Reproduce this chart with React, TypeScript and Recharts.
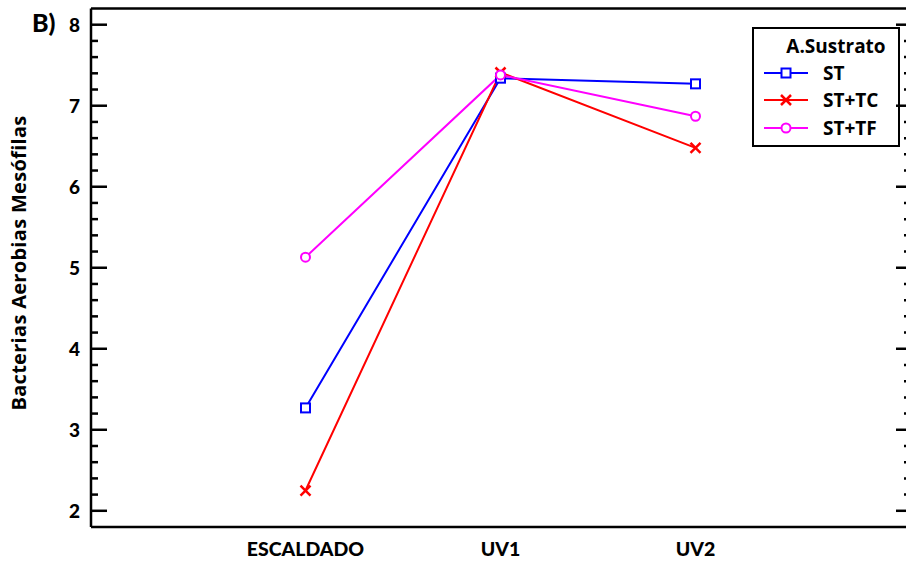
import React from 'react';
import { LineChart, Line, XAxis, YAxis, Customized } from 'recharts';

const categories = ['ESCALDADO', 'UV1', 'UV2'];
const stValues = [3.27, 7.34, 7.27];
const stTcValues = [2.25, 7.41, 6.48];
const stTfValues = [5.13, 7.38, 6.87];
const majorTicks = [2, 3, 4, 5, 6, 7, 8];
const seriesNames = ['ST', 'ST+TC', 'ST+TF'];
const legendTitle = 'A.Sustrato';
const yAxisTitle = 'Bacterias Aerobias Mesófilas';
const panelLabel = 'B)';

const BLUE = '#0000FF';
const RED = '#FF0000';
const MAGENTA = '#FF00FF';
const FONT = 'Lato, "Open Sans", sans-serif';
const FONT2 = '"Open Sans", Lato, sans-serif';

const data = categories.map((c, i) => ({
  x: i,
  cat: c,
  st: stValues[i],
  tc: stTcValues[i],
  tf: stTfValues[i],
}));

const allTicks: number[] = [];
majorTicks.forEach((m, i) => {
  allTicks.push(m);
  if (i < majorTicks.length - 1) {
    for (let k = 1; k <= 4; k++) allTicks.push(Math.round((m + k * 0.2) * 10) / 10);
  }
});

const isMajor = (v: number) => Math.abs(v - Math.round(v)) < 1e-6;

const SquareDot = (props: any) => {
  const { cx, cy } = props;
  if (cx == null || cy == null) return null;
  return <rect x={cx - 4.5} y={cy - 4.5} width={9} height={9} fill="#fff" stroke={BLUE} strokeWidth={2} />;
};
const CrossDot = (props: any) => {
  const { cx, cy } = props;
  if (cx == null || cy == null) return null;
  return (
    <g stroke={RED} strokeWidth={2.5}>
      <line x1={cx - 5} y1={cy - 5} x2={cx + 5} y2={cy + 5} />
      <line x1={cx - 5} y1={cy + 5} x2={cx + 5} y2={cy - 5} />
    </g>
  );
};
const CircleDot = (props: any) => {
  const { cx, cy } = props;
  if (cx == null || cy == null) return null;
  return <circle cx={cx} cy={cy} r={4.5} fill="#fff" stroke={MAGENTA} strokeWidth={2} />;
};

const LeftTick = (props: any) => {
  const { x, y, payload } = props;
  const v = payload.value;
  const major = isMajor(v);
  return (
    <g>
      <line x1={x} y1={y} x2={x + (major ? 16 : 7)} y2={y} stroke="#000" strokeWidth={2.5} />
      {major && (
        <text x={x - 11} y={y + 7} textAnchor="end" fontFamily={FONT} fontWeight={900} fontSize={19} fill="#000">
          {v}
        </text>
      )}
    </g>
  );
};

const RightTick = (props: any) => {
  const { x, y, payload } = props;
  const major = isMajor(payload.value);
  return <line x1={x} y1={y} x2={x - (major ? 14 : 6)} y2={y} stroke="#000" strokeWidth={2.5} />;
};

const BottomTick = (props: any) => {
  const { x, y, payload } = props;
  return (
    <text x={x} y={y + 29} textAnchor="middle" fontFamily={FONT} fontWeight={900} fontSize={19.5} fill="#000">
      {categories[payload.value]}
    </text>
  );
};

const Overlay = () => {
  const rows = [
    { name: seriesNames[0], color: BLUE, Dot: SquareDot },
    { name: seriesNames[1], color: RED, Dot: CrossDot },
    { name: seriesNames[2], color: MAGENTA, Dot: CircleDot },
  ];
  const rowY = [73, 100, 128];
  return (
    <g>
      <text x={32} y={32} fontFamily={FONT} fontWeight={900} fontSize={25} fill="#000">{panelLabel}</text>
      <text
        x={0}
        y={0}
        transform="translate(26,263) rotate(-90)"
        textAnchor="middle"
        fontFamily={FONT2}
        fontWeight={700}
        fontSize={20}
        letterSpacing={0.3}
        fill="#000"
      >
        {yAxisTitle}
      </text>
      <rect x={753} y={28} width={146} height={118} fill="#fff" stroke="#000" strokeWidth={2} />
      <text x={836} y={53} textAnchor="middle" fontFamily={FONT2} fontWeight={700} fontSize={19} fill="#000">{legendTitle}</text>
      {rows.map((r, i) => (
        <g key={r.name}>
          <line x1={764} y1={rowY[i]} x2={808} y2={rowY[i]} stroke={r.color} strokeWidth={2} />
          <r.Dot cx={786} cy={rowY[i]} />
          <text x={823} y={rowY[i] + 7} fontFamily={FONT2} fontWeight={700} fontSize={19} fill="#000">{r.name}</text>
        </g>
      ))}
    </g>
  );
};

export default function App() {
  return (
    <div style={{ position: 'absolute', left: 0, top: 0, width: 906, height: 565, overflow: 'hidden', background: '#fff' }}>
      <LineChart width={906} height={565} data={data} margin={{ top: 7.5, right: -5, bottom: 0, left: 0 }}>
        <XAxis
          xAxisId="b"
          type="number"
          dataKey="x"
          domain={[-1.1, 3.1]}
          ticks={[0, 1, 2]}
          allowDataOverflow
          height={38}
          tickSize={0}
          tickMargin={0}
          tickLine={false}
          axisLine={{ stroke: '#000', strokeWidth: 2.5 }}
          tick={<BottomTick />}
          interval={0}
        />
        <XAxis
          xAxisId="t"
          orientation="top"
          type="number"
          dataKey="x"
          domain={[-1.1, 3.1]}
          allowDataOverflow
          height={1}
          tick={false}
          tickLine={false}
          axisLine={{ stroke: '#000', strokeWidth: 2.5 }}
        />
        <YAxis
          yAxisId="l"
          type="number"
          domain={[1.8, 8.2]}
          ticks={allTicks}
          allowDataOverflow
          width={91}
          tickSize={0}
          tickMargin={0}
          tickLine={false}
          axisLine={{ stroke: '#000', strokeWidth: 2.5 }}
          tick={<LeftTick />}
          interval={0}
        />
        <YAxis
          yAxisId="r"
          orientation="right"
          type="number"
          domain={[1.8, 8.2]}
          ticks={allTicks}
          allowDataOverflow
          width={1}
          tickSize={0}
          tickMargin={0}
          tickLine={false}
          axisLine={{ stroke: '#000', strokeWidth: 2.5 }}
          tick={<RightTick />}
          interval={0}
        />
        <Line xAxisId="t" yAxisId="r" type="linear" dataKey="st" stroke="none" strokeWidth={0} dot={false} activeDot={false} legendType="none" isAnimationActive={false} />
        <Line xAxisId="b" yAxisId="l" type="linear" dataKey="st" stroke={BLUE} strokeWidth={2} dot={<SquareDot />} activeDot={false} isAnimationActive={false} />
        <Line xAxisId="b" yAxisId="l" type="linear" dataKey="tc" stroke={RED} strokeWidth={2} dot={<CrossDot />} activeDot={false} isAnimationActive={false} />
        <Line xAxisId="b" yAxisId="l" type="linear" dataKey="tf" stroke={MAGENTA} strokeWidth={2} dot={<CircleDot />} activeDot={false} isAnimationActive={false} />
        <Customized component={<Overlay />} />
      </LineChart>
    </div>
  );
}
